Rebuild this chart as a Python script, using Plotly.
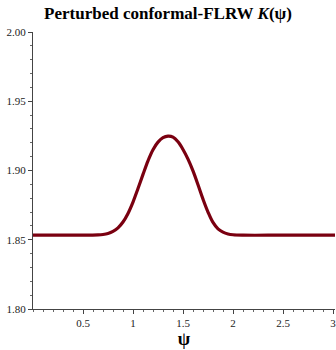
import plotly.graph_objects as go

psi = [0.00, 0.50, 0.65, 0.70, 0.75, 0.80, 0.85, 0.90, 0.95, 1.00, 1.05, 1.10, 1.15, 1.20,
       1.25, 1.30, 1.35, 1.40, 1.45, 1.50, 1.55, 1.60, 1.65, 1.70, 1.75, 1.80, 1.85, 1.90,
       1.95, 2.00, 2.10, 2.50, 3.02]
K = [1.8533, 1.8533, 1.8535, 1.8538, 1.8545, 1.8560, 1.8586, 1.8628, 1.8690, 1.8772,
     1.8870, 1.8972, 1.9070, 1.9150, 1.9205, 1.9237, 1.9248, 1.9241, 1.9207, 1.9152,
     1.9082, 1.8997, 1.8897, 1.8793, 1.8700, 1.8625, 1.8579, 1.8555, 1.8542, 1.8536,
     1.8533, 1.8533, 1.8533]

x_ticks = [0.5, 1.0, 1.5, 2.0, 2.5, 3.0]
x_tick_text = ["0.5", "1", "1.5", "2", "2.5", "3"]
y_ticks = [1.80, 1.85, 1.90, 1.95, 2.00]
y_tick_text = ["1.80", "1.85", "1.90", "1.95", "2.00"]

fig = go.Figure()
fig.add_trace(go.Scatter(x=psi, y=K, mode="lines",
                         line=dict(color="#7a0010", width=3.2, shape="spline", smoothing=1.0),
                         showlegend=False, hoverinfo="skip"))

serif = "Liberation Serif, Times New Roman, serif"
fig.update_layout(
    width=336, height=350,
    margin=dict(l=33, r=1, t=32, b=41),
    paper_bgcolor="white", plot_bgcolor="white",
    title=dict(text="<b>Perturbed conformal-FLRW <i>K</i>(ψ)</b>",
               x=0.5, xanchor="center", y=1 - 13 / 350, yref="container", yanchor="middle",
               font=dict(family=serif, size=17, color="black")),
    xaxis=dict(range=[0, 3.02], showgrid=False, zeroline=False,
               showline=True, linecolor="#444", linewidth=1,
               ticks="outside", ticklen=4, tickcolor="#444",
               tickvals=x_ticks, ticktext=x_tick_text, ticklabeloverflow="allow",
               tickfont=dict(family=serif, size=11, color="#222"),
               minor=dict(dtick=0.1, tick0=0, ticks="outside", ticklen=2, tickcolor="#666"),
               title=dict(text="<b>ψ</b>", font=dict(family=serif, size=18, color="black"), standoff=2)),
    yaxis=dict(range=[1.8, 2.0], showgrid=False, zeroline=False,
               showline=True, linecolor="#444", linewidth=1,
               ticks="outside", ticklen=4, tickcolor="#444",
               tickvals=y_ticks, ticktext=y_tick_text,
               tickfont=dict(family=serif, size=11, color="#222"),
               minor=dict(dtick=0.01, tick0=1.8, ticks="outside", ticklen=2, tickcolor="#666")),
)

fig.write_html("out.html", config={"displayModeBar": False},
               post_script="document.body.style.margin='0';")
